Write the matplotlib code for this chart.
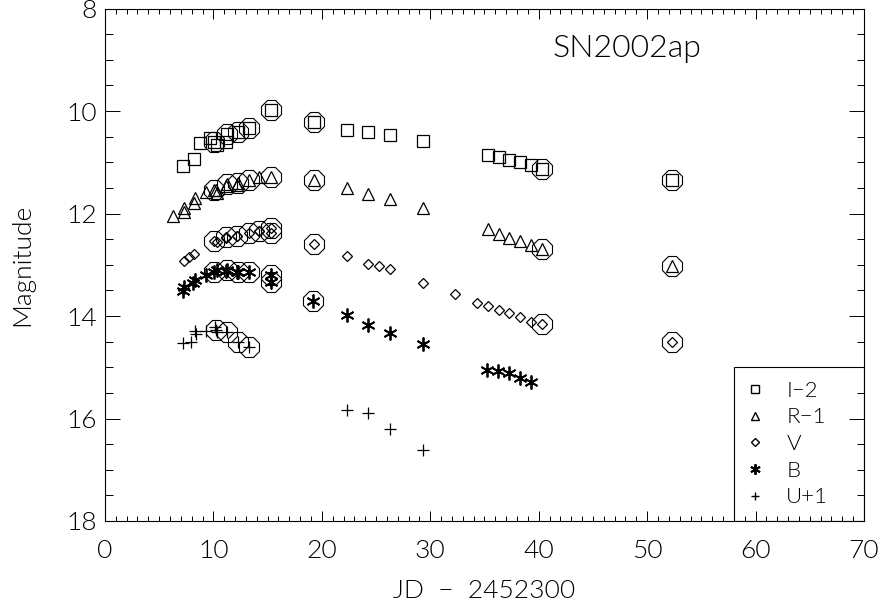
import numpy as np
import matplotlib.pyplot as plt
from matplotlib.lines import Line2D
from matplotlib.patches import Rectangle
from matplotlib.ticker import MultipleLocator

plt.rcParams['font.family'] = ['Lato', 'DejaVu Sans']
plt.rcParams['font.weight'] = 300
plt.rcParams['axes.labelweight'] = 300

# I-2 : plain points, then points from the second data set (circled)
i_jd = [7.2, 8.2, 8.75, 9.7, 10.3, 11.2, 22.3, 24.3, 26.3, 29.3, 35.3, 36.3, 37.3, 38.3, 39.3]
i_mag = [11.07, 10.93, 10.62, 10.52, 10.66, 10.60, 10.36, 10.40, 10.47, 10.59, 10.86, 10.90, 10.96, 11.00, 11.05]
i_jd_c = [10.1, 11.3, 12.3, 13.3, 15.3, 19.3, 40.3, 52.3]
i_mag_c = [10.60, 10.44, 10.40, 10.33, 9.98, 10.22, 11.13, 11.35]

# R-1
r_jd = [6.3, 7.25, 7.3, 8.2, 8.3, 9.3, 10.2, 10.3, 11.2, 12.2, 14.2, 22.3, 24.3, 26.3, 29.3, 35.3, 36.3, 37.3, 38.3, 39.3]
r_mag = [12.05, 11.97, 11.90, 11.80, 11.70, 11.57, 11.55, 11.60, 11.47, 11.45, 11.28, 11.51, 11.61, 11.71, 11.90, 12.31, 12.39, 12.47, 12.53, 12.62]
r_jd_c = [10.1, 11.3, 12.3, 13.3, 15.3, 19.3, 40.3, 52.3]
r_mag_c = [11.55, 11.43, 11.40, 11.35, 11.28, 11.35, 12.70, 13.03]

# V
v_jd = [7.3, 7.75, 8.2, 10.3, 11.2, 12.2, 14.2, 22.3, 24.3, 25.3, 26.3, 29.3, 32.3, 34.3, 35.3, 36.3, 37.3, 38.3, 39.3]
v_mag = [12.93, 12.85, 12.78, 12.55, 12.48, 12.44, 12.34, 12.83, 12.98, 13.03, 13.09, 13.36, 13.57, 13.74, 13.81, 13.89, 13.95, 14.02, 14.12]
v_jd_c = [10.1, 11.2, 12.2, 13.25, 14.25, 15.3, 15.3, 19.3, 40.3, 52.3]
v_mag_c = [12.54, 12.46, 12.43, 12.38, 12.35, 12.29, 12.38, 12.60, 14.15, 14.51]

# B
b_jd = [7.2, 7.25, 8.15, 8.3, 9.35, 10.3, 11.2, 12.2, 22.3, 24.3, 26.3, 29.3, 35.2, 36.2, 37.3, 38.3, 39.3]
b_mag = [13.51, 13.43, 13.35, 13.29, 13.19, 13.11, 13.12, 13.15, 13.98, 14.17, 14.34, 14.55, 15.05, 15.08, 15.12, 15.20, 15.29]
b_jd_c = [10.1, 11.3, 12.3, 13.3, 15.3, 15.3, 19.2]
b_mag_c = [13.14, 13.10, 13.14, 13.15, 13.20, 13.33, 13.71]

# U+1
u_jd = [7.2, 7.95, 8.3, 8.35, 9.35, 10.15, 10.35, 22.3, 24.3, 26.3, 29.3]
u_mag = [14.53, 14.51, 14.30, 14.36, 14.29, 14.22, 14.31, 15.83, 15.90, 16.20, 16.62]
u_jd_c = [10.2, 11.3, 12.3, 13.3]
u_mag_c = [14.27, 14.31, 14.50, 14.61]

bands = [
    ('I\u22122', 's', 8, i_jd, i_mag, i_jd_c, i_mag_c),
    ('R\u22121', '^', 8, r_jd, r_mag, r_jd_c, r_mag_c),
    ('V', 'D', 5.5, v_jd, v_mag, v_jd_c, v_mag_c),
    ('B', (6, 2, 0), 10, b_jd, b_mag, b_jd_c, b_mag_c),
    ('U+1', '+', 8.5, u_jd, u_mag, u_jd_c, u_mag_c),
]

fig = plt.figure(figsize=(8.85, 6.08), dpi=100)
ax = fig.add_axes([0.1186, 0.1431, 0.8577, 0.8428])

handles = []
for label, mk, ms, x, y, xc, yc in bands:
    mw = 1.3 if label == 'B' else 0.9
    ax.plot(x, y, ls='none', marker=mk, ms=ms, mfc='none', mec='black', mew=mw)
    ax.plot(xc, yc, ls='none', marker=mk, ms=ms, mfc='none', mec='black', mew=mw)
    ax.plot(xc, yc, ls='none', marker='8', ms=15, mfc='none', mec='black', mew=0.8)
    handles.append(Line2D([], [], ls='none', marker=mk, ms=ms * 0.75, mfc='none',
                          mec='black', mew=mw + 0.1, label=label))

ax.set_xlim(0, 70)
ax.set_ylim(18, 8)
ax.xaxis.set_major_locator(MultipleLocator(10))
ax.xaxis.set_minor_locator(MultipleLocator(1))
ax.yaxis.set_major_locator(MultipleLocator(2))
ax.yaxis.set_minor_locator(MultipleLocator(0.5))
ax.tick_params(which='both', direction='in', top=True, right=True, width=0.7, labelsize=19)
ax.tick_params(axis='x', which='major', length=7.2, pad=13)
ax.tick_params(axis='x', which='minor', length=3.6)
ax.tick_params(axis='y', which='major', length=10.9, pad=6)
ax.tick_params(axis='y', which='minor', length=5.4)
for lbl in ax.get_yticklabels():
    lbl.set_verticalalignment('center_baseline')
for s in ax.spines.values():
    s.set_linewidth(0.8)

ax.set_xlabel('JD  \u2212  2452300', fontsize=19)
ax.set_ylabel('Magnitude', fontsize=19)
ax.xaxis.set_label_coords(0.5, -0.113)
ax.yaxis.set_label_coords(-0.0935, 0.5)

ax.text(0.59, 0.922, 'SN2002ap', transform=ax.transAxes, fontsize=23,
        ha='left', va='center')

box = Rectangle((0.8287, 0.0), 0.1713, 0.3005, transform=ax.transAxes,
                fill=False, ec='black', lw=0.8)
ax.add_patch(box)
ax.legend(handles=handles, loc='center left', bbox_to_anchor=(0.845, 0.0, 0.155, 0.3005),
          frameon=False, fontsize=16, handlelength=0.8, handletextpad=1.0,
          labelspacing=0.3, borderpad=0.0, borderaxespad=0.0)

fig.savefig('out.png', dpi=100)
